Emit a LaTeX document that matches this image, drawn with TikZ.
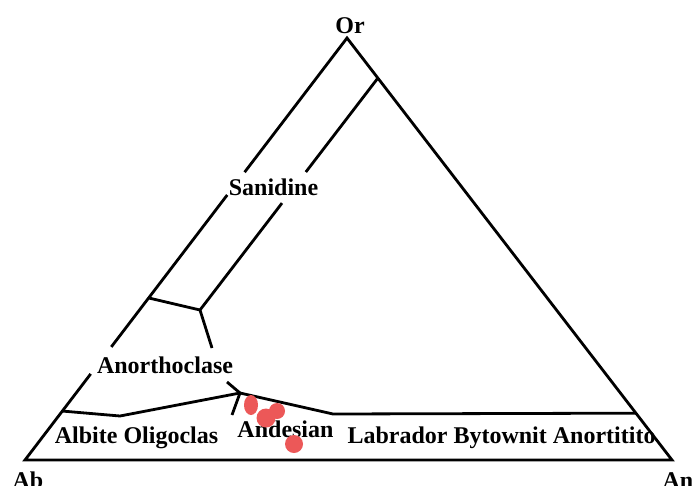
\documentclass[tikz,border=0pt]{standalone}
\usepackage{fontspec}
\setmainfont{Liberation Serif}
\usetikzlibrary{calc}
\definecolor{dotred}{RGB}{236,88,88}
\tikzset{
  side/.style={line width=2.8pt,line join=miter},
  lbl/.style={anchor=base,inner sep=0pt,font=\fontsize{24}{28}\selectfont\bfseries},
  sample/.style={fill=dotred,draw=none}
}
\begin{document}
\begin{tikzpicture}[x=1pt,y=-1pt]
\useasboundingbox (0,0) rectangle (693,485);
\coordinate (Ab) at (25,460);
\coordinate (Or) at (347,38);
\coordinate (An) at (672,460);
\coordinate (s1) at ($(Or)!0.095!(An)$);
\coordinate (r1) at ($(Or)!0.889!(An)$);
\coordinate (l1) at ($(Ab)!0.116!(Or)$);
\coordinate (j2) at ($(Ab)!0.384!(Or)$);
\coordinate (j1) at (200,310);
\coordinate (v) at (240,393);
\draw[side] ($(Ab)!0.204!(Or)$) -- (Ab) -- (An) -- (Or) -- ($(Ab)!0.682!(Or)$);
\draw[side] ($(Ab)!0.268!(Or)$) -- ($(Ab)!0.628!(Or)$);
\draw[side] (s1) -- ($(s1)!0.405!(j1)$);
\draw[side] ($(s1)!0.539!(j1)$) -- (j1) -- (212,348);
\draw[side] (j2) -- (j1);
\draw[side] (227,382) -- (v) -- (232,415);
\draw[side] (l1) -- (120,416) -- (v) -- (333,414) -- (r1);
\node[lbl] (or) at (350,33) {Or};
\node[lbl] (ab) at (28,488) {Ab};
\node[lbl] (an) at (678,488) {An};
\node[lbl] (san) at (273.5,195) {Sanidine};
\node[lbl] (ano) at (165,373) {Anorthoclase};
\node[lbl] (alb) at (136.5,443) {Albite Oligoclas};
\node[lbl] (and) at (285.5,437) {Andesian};
\node[lbl] (lab) at (501.5,443) {Labrador Bytownit Anortitito};
\fill[sample] (251,405) ellipse [x radius=7,y radius=10];
\fill[sample] (266,418) circle [radius=9.5];
\fill[sample] (277,411) circle [radius=8];
\fill[sample] (294,444) circle [radius=9];
\end{tikzpicture}
\end{document}
